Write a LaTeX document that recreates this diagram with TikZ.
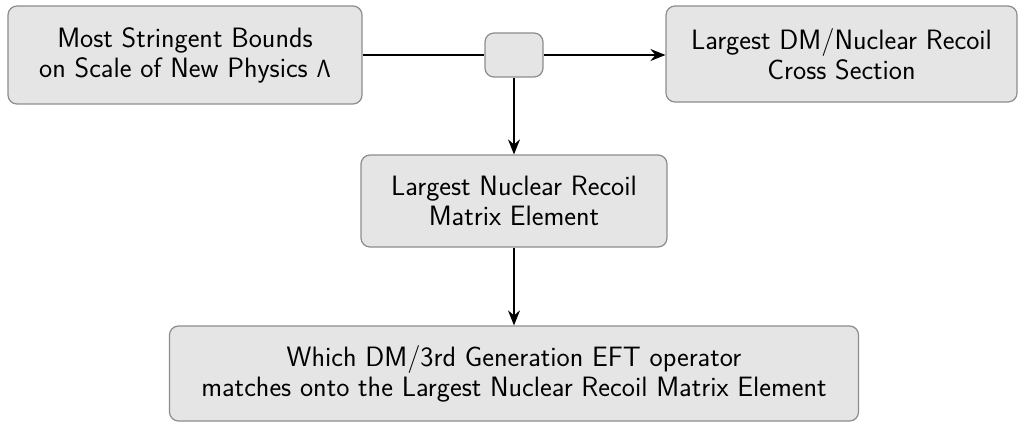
\documentclass[tikz,border=0pt]{standalone}
\usetikzlibrary{arrows.meta}
\begin{document}
\begin{tikzpicture}[x=1pt,y=-1pt,
  box/.style={draw=black!45,fill=black!10,line width=1.2pt,rounded corners=9pt,
    align=center,inner sep=0pt,font=\sffamily\fontsize{28}{30}\selectfont},
  conn/.style={line width=1.8pt,-{Stealth[length=15pt,width=12pt,inset=5pt]}},
  plain/.style={line width=1.8pt}]
\useasboundingbox (0,0) rectangle (1024,425);
\node[box,minimum width=354pt,minimum height=98pt] (a) at (185,55) {Most Stringent Bounds\\on Scale of New Physics $\mathsf{\Lambda}$};
\node[box,minimum width=58pt,minimum height=44pt] (s) at (514,55) {};
\node[box,minimum width=351pt,minimum height=96pt] (b) at (841.5,54) {Largest DM/Nuclear Recoil\\Cross Section};
\node[box,minimum width=306pt,minimum height=92pt] (c) at (514,201) {Largest Nuclear Recoil\\Matrix Element};
\node[box,minimum width=689pt,minimum height=95pt] (d) at (514,373.5) {Which DM/3rd Generation EFT operator\\matches onto the Largest Nuclear Recoil Matrix Element};
\draw[plain] (a.east |- s.west) -- (s.west);
\draw[conn] (s.east) -- (b.west |- s.east);
\draw[conn] (s.south) -- (c.north);
\draw[conn] (c.south) -- (d.north);
\end{tikzpicture}
\end{document}
